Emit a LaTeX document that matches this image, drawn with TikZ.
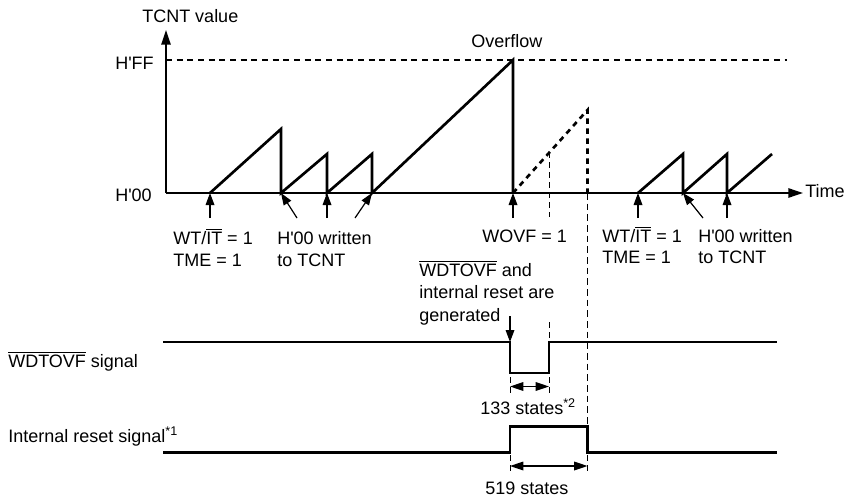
\documentclass[tikz,border=0pt]{standalone}
\usepackage{fontspec}
\setmainfont{Liberation Sans}[Ligatures=TeXOff]
\usetikzlibrary{arrows.meta}
\newcommand\ovl[1]{$\overline{\mbox{#1}}$}
\begin{document}
\begin{tikzpicture}[x=0.75pt,y=-0.75pt,
  lbl/.style={inner sep=0pt, font=\fontsize{13.5}{16}\selectfont},
  ax/.style={line width=1.2pt},
  axarrow/.style={ax,-{Triangle[length=11pt,width=7pt]}},
  saw/.style={line width=2pt, line join=miter},
  dsaw/.style={line width=2pt, dash pattern=on 4pt off 3.5pt},
  sig/.style={line width=1.7pt, line join=miter},
  ptr/.style={line width=0.9pt, -{Triangle[length=9pt,width=6.5pt]}},
  dimarrow/.style={line width=0.9pt, {Triangle[length=10pt,width=6.5pt]}-{Triangle[length=10pt,width=6.5pt]}},
  guide/.style={line width=0.75pt, dash pattern=on 4.5pt off 3pt},
  mguide/.style={line width=1.1pt, dash pattern=on 5pt off 3pt},
  ffline/.style={line width=0.9pt, dash pattern=on 4.5pt off 3.5pt},
]
\useasboundingbox (0,0) rectangle (848,499);

% axes
\coordinate (O) at (166,193);
\coordinate (Ytop) at (166,30);
\coordinate (Xend) at (803,193);
\coordinate (FFa) at (166,60);
\coordinate (FFb) at (787,60);
\draw[axarrow] (O) -- (Ytop);
\draw[axarrow] (O) -- (Xend);
\draw[ffline] (FFa) -- (FFb);

% labels on axes
\node[lbl, anchor=base west] (tcnt) at (142,23) {TCNT value};
\node[lbl, anchor=base east] (hff) at (154,70) {H'FF};
\node[lbl, anchor=base east] (h00) at (152,201) {H'00};
\node[lbl, anchor=base west] (ovf) at (471,47.5) {Overflow};
\node[lbl, anchor=base west] (time) at (805,197) {Time};

% counter sawtooth
\draw[saw] (210,193) -- (281,129) -- (281,193) -- (327,154) -- (327,193)
  -- (372,154) -- (372,193) -- (513,60) -- (513,193);
\draw[dsaw] (513,193) -- (587.5,110) -- (587.5,193);
\draw[saw] (638,193) -- (683,154) -- (683,193) -- (727,154) -- (727,193) -- (772,154);

% guide lines
\draw[mguide] (587.5,193) -- (587.5,426.5);
\draw[guide] (549,152) -- (549,217);
\draw[guide] (549,322) -- (549,342);
\draw[guide] (510,377) -- (510,393);
\draw[guide] (549,377) -- (549,393);
\draw[guide] (510,455) -- (510,472);
\draw[guide] (587.5,455) -- (587.5,472);

% pointer coordinates
\coordinate (p1s) at (210,218);  \coordinate (p1e) at (210,193);
\coordinate (p2s) at (297,218);  \coordinate (p2e) at (281,193);
\coordinate (p3s) at (327,218);  \coordinate (p3e) at (327,193);
\coordinate (p4s) at (355,218);  \coordinate (p4e) at (372,193);
\coordinate (p5s) at (513,218);  \coordinate (p5e) at (513,193);
\coordinate (p6s) at (638,218);  \coordinate (p6e) at (638,193);
\coordinate (p7s) at (703,218);  \coordinate (p7e) at (683,193);
\coordinate (p8s) at (727,218);  \coordinate (p8e) at (727,193);
\coordinate (p9s) at (510,316);  \coordinate (p9e) at (510,342);
\foreach \i in {1,...,9} {\draw[ptr] (p\i s) -- (p\i e);}

% event labels
\node[lbl, anchor=base west] (wt1) at (173,244) {WT/\ovl{IT} = 1};
\node[lbl, anchor=base west] (tme1) at (173,266) {TME = 1};
\node[lbl, anchor=base west] (hw1) at (277,244) {H'00 written};
\node[lbl, anchor=base west] (tt1) at (277,266) {to TCNT};
\node[lbl, anchor=base west] (wovf) at (482,242) {WOVF = 1};
\node[lbl, anchor=base west] (wt2) at (602,242) {WT/\ovl{IT} = 1};
\node[lbl, anchor=base west] (tme2) at (602,263.5) {TME = 1};
\node[lbl, anchor=base west] (hw2) at (698,242) {H'00 written};
\node[lbl, anchor=base west] (tt2) at (698,263.5) {to TCNT};
\node[lbl, anchor=base west] (gen1) at (419,276) {\ovl{WDTOVF} and};
\node[lbl, anchor=base west] (gen2) at (419,298.5) {internal reset are};
\node[lbl, anchor=base west] (gen3) at (419,321) {generated};

% signals
\node[lbl, anchor=base west] (sigw) at (8,367) {\ovl{WDTOVF} signal};
\node[lbl, anchor=base west] (sigr) at (8,442) {Internal reset signal\textsuperscript{*1}};
\draw[sig] (163,342) -- (510,342) -- (510,373) -- (549,373) -- (549,342) -- (777,342);
\draw[sig] (163,452.5) -- (510,452.5) -- (510,426.5) -- (587.5,426.5) -- (587.5,452.5) -- (777,452.5);

% durations
\coordinate (d1a) at (510,386.5); \coordinate (d1b) at (549,386.5);
\coordinate (d2a) at (510,466);   \coordinate (d2b) at (587.5,466);
\draw[dimarrow] (d1a) -- (d1b);
\draw[dimarrow] (d2a) -- (d2b);
\node[lbl, anchor=base west] (s133) at (480,414) {133 states\textsuperscript{*2}};
\node[lbl, anchor=base west] (s519) at (485,494) {519 states};
\end{tikzpicture}
\end{document}
